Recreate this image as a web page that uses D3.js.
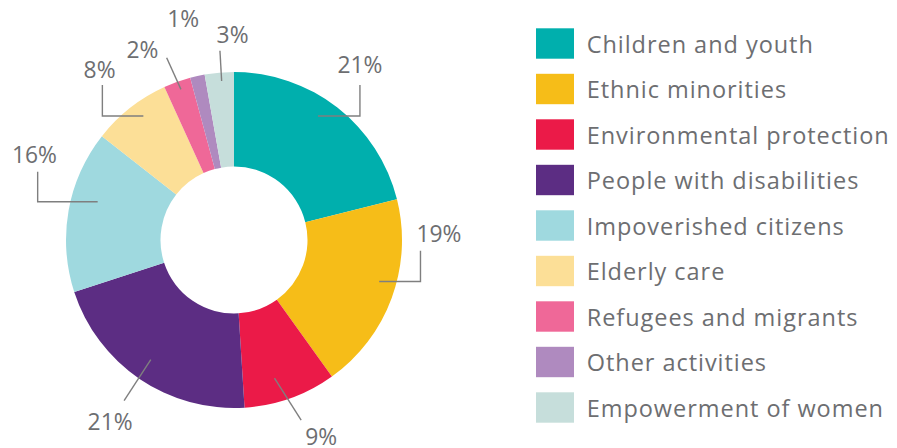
<!DOCTYPE html>
<html><head><meta charset="utf-8">
<script src="https://cdn.jsdelivr.net/npm/d3@7"></script>
<style>html,body{margin:0;padding:0;background:#fff;}svg{display:block;} text{font-variant-ligatures:none;}</style>
</head><body>
<svg id="chart" width="897" height="448"></svg>
<script>
const categories = ["Children and youth","Ethnic minorities","Environmental protection","People with disabilities","Impoverished citizens","Elderly care","Refugees and migrants","Other activities","Empowerment of women"];
const values = [21.1, 19.0, 8.9, 21.0, 15.6, 7.6, 2.6, 1.4, 2.8];
const pctLabels = ["21%","19%","9%","21%","16%","8%","2%","1%","3%"];
const colors = ["#00AFAD","#F6BD18","#EB1A48","#5C2D83","#9FD9DF","#FCDF97","#EF6898","#AF8ABF","#C6DEDB"];

// leader-line layout (annotation styling, relative to slice mid-angle)
const leaderLayout = [
  {da:-3.9, r:149.8, type:"elbow", hx:42, vy:-31, tdx:0, tdy:-12},
  {da:-4.2, r:151, type:"elbow", hx:41.3, vy:-30.7, tdx:18.4, tdy:-8.7},
  {da:3.3, r:144, type:"straight", ex:26.7, ey:42, tdx:20, tdy:25},
  {da:0.6, r:145.8, type:"straight", ex:-26.7, ey:41, tdx:-14, tdy:29.3},
  {da:5.6, r:141.6, type:"elbow", hx:-60, vy:-30, tdx:-3.2, tdy:-8.7},
  {da:2, r:153.6, type:"elbow", hx:-41, vy:-31, tdx:-2.8, tdy:-7},
  {da:0.4, r:159.7, type:"straight", ex:-14.3, ey:-31.6, tdx:-24.2, tdy:0.3},
  {da:0, r:160, type:"none", tdx:-16, tdy:-57},
  {da:0.6, r:159.5, type:"straight", ex:-1.7, ey:-30.3, tdx:12.6, tdy:-8}
];

const svg = d3.select("#chart");
const cx = 234, cy = 240, rOuter = 168, rInner = 73.5;
const textColor = "#6d6e71", lineColor = "#7f7f7f";
const fontFamily = "'Open Sans', Lato, sans-serif";

const data = categories.map((c,i)=>({cat:c, value:values[i], label:pctLabels[i], color:colors[i], lay:leaderLayout[i]}));
const pie = d3.pie().value(d=>d.value).sort(null);
const arc = d3.arc().innerRadius(rInner).outerRadius(rOuter);
const arcs = pie(data);

const g = svg.append("g").attr("transform",`translate(${cx},${cy})`);
g.selectAll("path.slice").data(arcs).join("path")
  .attr("class","slice").attr("d",arc).attr("fill",d=>d.data.color);

// leader lines and labels
arcs.forEach(a=>{
  const L = a.data.lay;
  const mid = (a.startAngle + a.endAngle)/2 + L.da*Math.PI/180;
  const sx = L.r*Math.sin(mid), sy = -L.r*Math.cos(mid);
  let ex = sx, ey = sy, pts = null;
  if (L.type === "elbow") {
    const hx = sx + L.hx; const vy = sy + L.vy;
    pts = [[sx,sy],[hx,sy],[hx,vy]]; ex = hx; ey = vy;
  } else if (L.type === "straight") {
    ex = sx + L.ex; ey = sy + L.ey; pts = [[sx,sy],[ex,ey]];
  }
  if (pts) g.append("path").attr("d", d3.line()(pts)).attr("fill","none")
      .attr("stroke",lineColor).attr("stroke-width",1.4);
  g.append("text").attr("class","pct")
    .attr("x", ex + L.tdx).attr("y", ey + L.tdy)
    .attr("text-anchor", "middle")
    .attr("font-family", fontFamily).attr("font-size", 24).attr("font-weight",400)
    .attr("fill", textColor).text(a.data.label);
});

// legend
const legendY = d3.scaleBand().domain(categories).range([28.3, 28.3+45.5*9]).paddingInner(0);
const lg = svg.append("g");
const rows = lg.selectAll("g.row").data(data).join("g").attr("class","row")
  .attr("transform", d=>`translate(536,${legendY(d.cat)})`);
rows.append("rect").attr("width",38).attr("height",30.4).attr("fill",d=>d.color);
rows.append("text").attr("x",50.7).attr("y",24.4)
  .attr("font-family", fontFamily).attr("font-size", 23.5).attr("font-weight",400)
  .attr("fill", textColor).text(d=>d.cat);

// fit legend width to the reference using letter spacing
const envText = rows.selectAll("text").filter(d=>d.cat==="Environmental protection").node();
const w = envText.getComputedTextLength();
const ls = Math.max(0, (303 - w) / 24);
rows.selectAll("text").attr("letter-spacing", ls);
const pctNode = g.selectAll("text.pct").nodes()[0];
const pw = pctNode.getComputedTextLength();
g.selectAll("text.pct").attr("font-size", Math.min(26, 24*45/pw));
</script>
</body></html>
